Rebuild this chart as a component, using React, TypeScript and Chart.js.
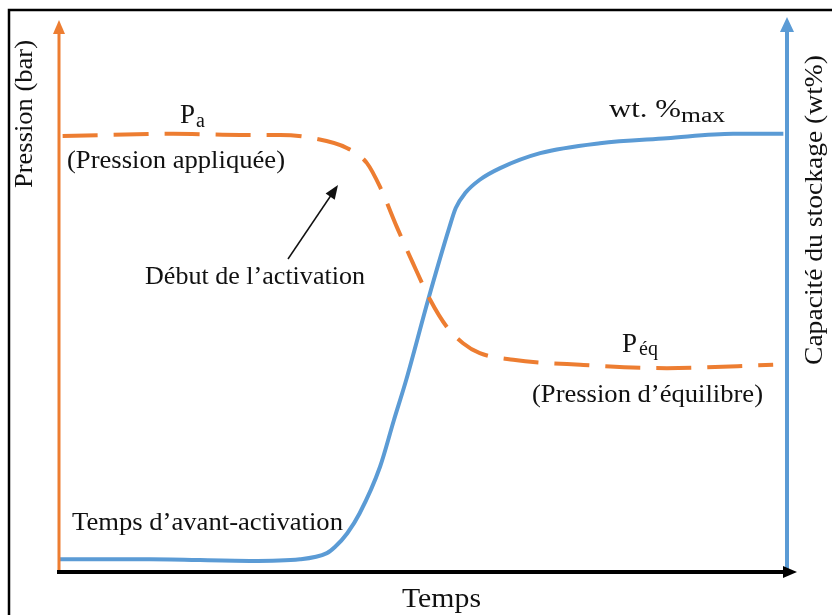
import React, { useEffect, useRef } from "react";
import { Chart, registerables } from "chart.js";

Chart.register(...registerables);

// ---- Data (arbitrary units: time 0-100, values 0-100) ----
const storageTime = [0.1, 12.5, 26.2, 33.1, 36.8, 37.9, 39.6, 41.3, 44.1, 46.0, 47.7, 50.7, 53.6, 54.5, 55.8, 57.8, 60.6, 66.1, 74.3, 83.5, 92.6, 99.5];
const storageCapacity = [2.3, 2.3, 2.0, 2.3, 3.4, 4.5, 7.0, 10.6, 19.0, 27.4, 34.7, 49.1, 62.1, 65.7, 68.4, 70.8, 72.9, 75.6, 77.4, 78.3, 79.1, 79.1];

const pressureTime = [0.5, 15.7, 24.9, 30.4, 34.9, 39.6, 42.3, 44.1, 46.4, 48.6, 51.0, 53.3, 55.5, 57.8, 62.4, 71.6, 83.5, 98.1];
const pressureValues = [78.7, 79.1, 78.9, 78.9, 78.3, 76.5, 73.8, 69.5, 62.3, 55.8, 49.1, 44.2, 41.3, 39.5, 38.3, 37.4, 36.8, 37.4];

const xTitle = "Temps";
const yLeftTitle = "Pression (bar)";
const yRightTitle = "Capacité du stockage (wt%)";

const ORANGE = "#ED7D31";
const BLUE = "#5B9BD5";
const FONT = "'Liberation Serif', 'Times New Roman', serif";

type Ctx = CanvasRenderingContext2D;

function fitText(ctx: Ctx, text: string, x: number, y: number, size: number, width: number | null, rot = 0) {
  ctx.save();
  ctx.font = `${size}px ${FONT}`;
  ctx.fillStyle = "#111";
  ctx.textAlign = "left";
  ctx.textBaseline = "alphabetic";
  const w = ctx.measureText(text).width;
  ctx.translate(x, y);
  if (rot) ctx.rotate(rot);
  if (width) ctx.scale(width / w, 1);
  ctx.fillText(text, 0, 0);
  ctx.restore();
}

function triangle(ctx: Ctx, pts: number[][], color: string) {
  ctx.save();
  ctx.fillStyle = color;
  ctx.beginPath();
  ctx.moveTo(pts[0][0], pts[0][1]);
  for (let i = 1; i < pts.length; i++) ctx.lineTo(pts[i][0], pts[i][1]);
  ctx.closePath();
  ctx.fill();
  ctx.restore();
}

const overlay = {
  id: "overlay",
  afterDraw(chart: any) {
    const ctx: Ctx = chart.ctx;
    const { left, right, top, bottom } = chart.chartArea;
    ctx.save();
    // frame
    ctx.strokeStyle = "#000";
    ctx.lineWidth = 2.5;
    ctx.beginPath();
    ctx.moveTo(9, 615);
    ctx.lineTo(9, 10);
    ctx.lineTo(832, 10);
    ctx.stroke();

    // left (pressure) axis
    ctx.strokeStyle = ORANGE;
    ctx.lineWidth = 3;
    ctx.beginPath();
    ctx.moveTo(left, bottom);
    ctx.lineTo(left, top + 12);
    ctx.stroke();
    triangle(ctx, [[left, top + 2], [left - 6, top + 16], [left + 6, top + 16]], ORANGE);

    // right (capacity) axis
    ctx.strokeStyle = BLUE;
    ctx.lineWidth = 4;
    ctx.beginPath();
    ctx.moveTo(right, bottom);
    ctx.lineTo(right, top + 10);
    ctx.stroke();
    triangle(ctx, [[right, top - 1], [right - 7, top + 14], [right + 7, top + 14]], BLUE);

    // time axis
    ctx.strokeStyle = "#000";
    ctx.lineWidth = 4;
    ctx.beginPath();
    ctx.moveTo(left - 2, bottom);
    ctx.lineTo(right - 2, bottom);
    ctx.stroke();
    triangle(ctx, [[right + 10, bottom], [right - 4, bottom - 6], [right - 4, bottom + 6]], "#000");

    // pointer arrow to start of activation
    const ax0 = 288, ay0 = 259, ax1 = 338, ay1 = 185;
    const ang = Math.atan2(ay1 - ay0, ax1 - ax0);
    ctx.strokeStyle = "#111";
    ctx.lineWidth = 1.5;
    ctx.beginPath();
    ctx.moveTo(ax0, ay0);
    ctx.lineTo(ax1 - 10 * Math.cos(ang), ay1 - 10 * Math.sin(ang));
    ctx.stroke();
    const hl = 14, hw = 5.5;
    const bx = ax1 - hl * Math.cos(ang), by = ay1 - hl * Math.sin(ang);
    triangle(ctx, [[ax1, ay1], [bx + hw * Math.sin(ang), by - hw * Math.cos(ang)], [bx - hw * Math.sin(ang), by + hw * Math.cos(ang)]], "#111");

    // axis titles
    fitText(ctx, xTitle, 402, 607, 28, 79);
    fitText(ctx, yLeftTitle, 32, 188, 26, 148, -Math.PI / 2);
    fitText(ctx, yRightTitle, 822, 365, 26, 310, -Math.PI / 2);

    // annotations
    fitText(ctx, "P", 180, 123, 27, null);
    fitText(ctx, "a", 196, 127, 20, null);
    fitText(ctx, "(Pression appliquée)", 67, 168, 25, 218);
    fitText(ctx, "Début de l’activation", 145, 284, 25, 220);
    fitText(ctx, "wt. %", 609, 117, 26, 72);
    fitText(ctx, "max", 681, 122, 20, 44);
    fitText(ctx, "P", 622, 352, 27, null);
    fitText(ctx, "éq", 639, 355, 20, null);
    fitText(ctx, "(Pression d’équilibre)", 532, 402, 25, 231);
    fitText(ctx, "Temps d’avant-activation", 72, 530, 25, 271);
    ctx.restore();
  },
};

export default function App() {
  const ref = useRef<HTMLCanvasElement | null>(null);
  useEffect(() => {
    if (!ref.current) return;
    const chart = new Chart(ref.current, {
      type: "line",
      data: {
        datasets: [
          {
            label: "Pression",
            data: pressureTime.map((t, i) => ({ x: t, y: pressureValues[i] })),
            borderColor: ORANGE,
            borderWidth: 4,
            borderDash: [35, 16],
            pointRadius: 0,
            cubicInterpolationMode: "monotone",
            yAxisID: "yP",
          },
          {
            label: "Capacité",
            data: storageTime.map((t, i) => ({ x: t, y: storageCapacity[i] })),
            borderColor: BLUE,
            borderWidth: 4,
            pointRadius: 0,
            cubicInterpolationMode: "monotone",
            yAxisID: "yC",
          },
        ],
      },
      options: {
        responsive: false,
        animation: false,
        layout: { padding: { left: 59, right: 45, top: 18, bottom: 43 } },
        plugins: { legend: { display: false }, tooltip: { enabled: false }, title: { display: false } },
        scales: {
          x: { type: "linear", min: 0, max: 100, display: false },
          yP: { type: "linear", min: 0, max: 100, display: false, position: "left" },
          yC: { type: "linear", min: 0, max: 100, display: false, position: "right" },
        },
      },
      plugins: [overlay],
    });
    return () => chart.destroy();
  }, []);
  return (
    <div style={{ position: "absolute", left: 0, top: 0, width: 832, height: 615, background: "#fff" }}>
      <canvas ref={ref} width={832} height={615} style={{ display: "block" }} />
    </div>
  );
}
